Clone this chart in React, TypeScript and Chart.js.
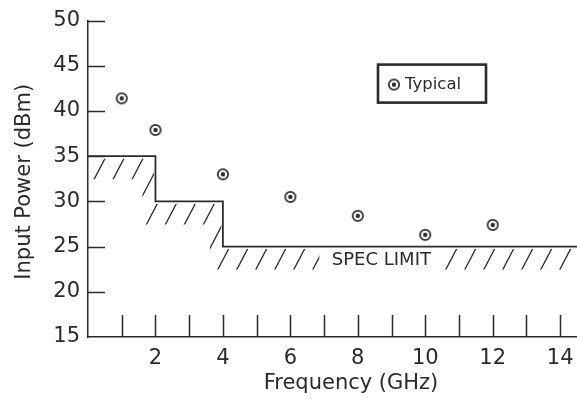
import React, { useEffect, useRef } from 'react';
import { Chart, registerables } from 'chart.js';

Chart.register(...registerables);

// ---- data ----
const typicalFreq = [1, 2, 4, 6, 8, 10, 12];
const typicalPower = [41.4, 37.9, 33.0, 30.5, 28.4, 26.3, 27.4];
const specFreq = [0, 2, 4, 14.5];
const specPower = [35, 30, 25, 25];
const xLabelTicks = [2, 4, 6, 8, 10, 12, 14];
const xMinorTicks = [1, 2, 3, 4, 5, 6, 7, 8, 9, 10, 11, 12, 13, 14];
const yTickValues = [20, 25, 30, 35, 40, 45, 50];
const xRange = [0, 14.5];
const yRange = [15, 50];
const specLabel = 'SPEC LIMIT';
const specLabelFreq = 8.7;
const legendLabel = 'Typical';
const xTitle = 'Frequency (GHz)';
const yTitle = 'Input Power (dBm)';

const FONT = '"DejaVu Sans", "Liberation Sans", Arial, sans-serif';
const INK = '#2b2b2b';

function makeMarker(): HTMLCanvasElement {
  const c = document.createElement('canvas');
  c.width = 14;
  c.height = 14;
  const g = c.getContext('2d')!;
  g.fillStyle = '#ffffff';
  g.strokeStyle = INK;
  g.lineWidth = 1.7;
  g.beginPath();
  g.arc(7, 7, 5.2, 0, Math.PI * 2);
  g.fill();
  g.stroke();
  g.fillStyle = INK;
  g.beginPath();
  g.arc(7, 7, 2.2, 0, Math.PI * 2);
  g.fill();
  return c;
}

const decorPlugin = {
  id: 'decor',
  beforeDatasetsDraw(chart: any) {
    const { ctx, chartArea, scales } = chart;
    const x = scales.x;
    const y = scales.y;
    const W = chart.width;
    const H = chart.height;

    // staircase points (horizontal first, then vertical)
    const pts: number[][] = [];
    for (let i = 0; i < specFreq.length; i++) {
      const px = x.getPixelForValue(specFreq[i]);
      const py = y.getPixelForValue(specPower[i]);
      if (i > 0) pts.push([px, y.getPixelForValue(specPower[i - 1])]);
      pts.push([px, py]);
    }
    pts[0][0] -= 40;
    pts[pts.length - 1][0] += 40;

    const g0x = -1.5, g0y = 2.5;
    const g1x = -13, g1y = 23;

    ctx.save();
    ctx.beginPath();
    ctx.rect(chartArea.left + 1.5, 0, W, H);
    ctx.clip();
    ctx.beginPath();
    pts.forEach((p, i) => {
      if (i === 0) ctx.moveTo(p[0] + g0x, p[1] + g0y);
      else ctx.lineTo(p[0] + g0x, p[1] + g0y);
    });
    for (let i = pts.length - 1; i >= 0; i--) {
      ctx.lineTo(pts[i][0] + g1x, pts[i][1] + g1y);
    }
    ctx.closePath();
    ctx.clip();
    // exclude label zone
    const y25 = y.getPixelForValue(specPower[specPower.length - 1]);
    const lx = x.getPixelForValue(specLabelFreq);
    ctx.beginPath();
    ctx.rect(0, 0, W, H);
    ctx.rect(lx - 62, y25 + 1, 122, 26);
    ctx.clip('evenodd');

    const slope = 21 / 11;
    const step = 19;
    ctx.strokeStyle = INK;
    ctx.lineWidth = 1.3;
    ctx.beginPath();
    for (let k = 587 - step * 60; k < W + H; k += step) {
      ctx.moveTo(k, 0);
      ctx.lineTo(k - H / slope, H);
    }
    ctx.stroke();
    ctx.restore();

    // spec label
    ctx.save();
    ctx.fillStyle = INK;
    ctx.font = `18px ${FONT}`;
    ctx.textAlign = 'center';
    ctx.textBaseline = 'middle';
    ctx.fillText(specLabel, lx, y25 + 14);
    ctx.restore();
  },
  afterDraw(chart: any) {
    const { ctx, chartArea, scales } = chart;
    const x = scales.x;
    const y = scales.y;
    ctx.save();
    ctx.strokeStyle = INK;
    ctx.lineWidth = 1.5;
    ctx.beginPath();
    const yb = chartArea.bottom;
    xMinorTicks.forEach((v) => {
      const px = Math.round(x.getPixelForValue(v)) + 0.5;
      ctx.moveTo(px, yb);
      ctx.lineTo(px, yb - 22);
    });
    const xl = chartArea.left;
    yTickValues.forEach((v) => {
      const py = Math.round(y.getPixelForValue(v)) + 0.5;
      ctx.moveTo(xl, py);
      ctx.lineTo(xl + 17, py);
    });
    ctx.stroke();

    // legend
    const bx = chartArea.right - 199;
    const by = chartArea.top + 44;
    ctx.lineWidth = 2.6;
    ctx.strokeRect(bx, by, 108, 38);
    const m = makeMarker();
    ctx.drawImage(m, bx + 16 - 7, by + 20 - 7);
    ctx.fillStyle = INK;
    ctx.font = `16.5px ${FONT}`;
    ctx.textAlign = 'left';
    ctx.textBaseline = 'middle';
    ctx.fillText(legendLabel, bx + 27, by + 20);

    // axis titles
    ctx.font = `21px ${FONT}`;
    ctx.textAlign = 'center';
    ctx.textBaseline = 'middle';
    ctx.fillText(xTitle, 351, chart.height - 19);
    ctx.translate(25, (chartArea.top + chartArea.bottom) / 2 + 3);
    ctx.rotate(-Math.PI / 2);
    ctx.fillText(yTitle, 0, 0);
    ctx.restore();
  },
};

export default function App() {
  const ref = useRef<HTMLCanvasElement>(null);
  useEffect(() => {
    if (!ref.current) return;
    const marker = makeMarker();
    const chart = new Chart(ref.current, {
      type: 'scatter',
      data: {
        datasets: [
          {
            label: 'Spec limit',
            type: 'line',
            data: specFreq.map((f, i) => ({ x: f, y: specPower[i] })),
            stepped: 'before',
            borderColor: INK,
            borderWidth: 1.8,
            pointRadius: 0,
            fill: false,
          } as any,
          {
            label: legendLabel,
            data: typicalFreq.map((f, i) => ({ x: f, y: typicalPower[i] })),
            pointStyle: marker,
            pointRadius: 6,
            showLine: false,
          } as any,
        ],
      },
      options: {
        responsive: false,
        animation: false,
        layout: { autoPadding: false, padding: { top: 18, right: 0, left: 0, bottom: 0 } },
        plugins: { legend: { display: false }, tooltip: { enabled: false } },
        scales: {
          x: {
            type: 'linear',
            min: xRange[0],
            max: xRange[1],
            grid: { display: false, drawTicks: false },
            border: { display: true, color: INK, width: 1.5 },
            ticks: {
              stepSize: 1,
              includeBounds: false,
              autoSkip: false,
              maxRotation: 0,
              padding: 9,
              color: INK,
              font: { family: FONT, size: 21 },
              callback: (v: any) => (xLabelTicks.includes(Number(v)) ? String(v) : ''),
            },
            afterFit: (s: any) => {
              s.height = 66;
              s.paddingRight = 0;
              s.paddingLeft = 0;
            },
          },
          y: {
            type: 'linear',
            min: yRange[0],
            max: yRange[1],
            grid: { display: false, drawTicks: false },
            border: { display: true, color: INK, width: 1.5 },
            ticks: {
              stepSize: 5,
              padding: 8,
              color: INK,
              font: { family: FONT, size: 21 },
            },
            afterFit: (s: any) => {
              s.width = 88;
            },
          },
        },
      },
      plugins: [decorPlugin],
    });
    return () => chart.destroy();
  }, []);
  return (
    <div style={{ position: 'absolute', left: 0, top: 0, width: 577, height: 403, background: '#fff' }}>
      <canvas ref={ref} width={577} height={403} style={{ display: 'block' }} />
    </div>
  );
}
